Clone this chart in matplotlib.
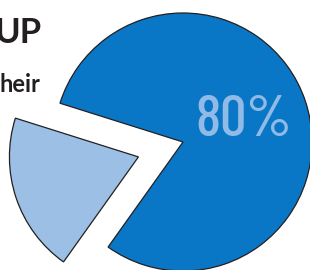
import matplotlib.pyplot as plt

# slice shares (percent)
labels = ["other", "main"]
shares = [20, 80]

BLUE = "#0a77c6"
LIGHT = "#9bbfe5"
LABEL = "#8fbbe6"
INK = "#231f20"

fig = plt.figure(figsize=(3.1, 2.7), dpi=100)
ax = fig.add_axes([0, 0, 1, 1])

# pie drawn in pixel-like data units; explode is in data units too
ax.pie(
    shares,
    explode=[47, 0],
    colors=[LIGHT, BLUE],
    startangle=162.5,
    counterclock=True,
    center=(183, 128),
    radius=129,
    wedgeprops={"edgecolor": INK, "linewidth": 0.9},
)

ax.set_xlim(0, 310)
ax.set_ylim(0, 270)
ax.set_aspect("equal")
ax.axis("off")

# big label inside the main slice
ax.text(244, 149, f"{shares[1]}%", color=LABEL, fontsize=42,
        family=["Barlow Condensed", "DejaVu Sans"],
        fontstretch="condensed", fontweight="medium",
        ha="center", va="center")

# cropped title / caption fragments
ax.text(42, 227, "UP", color=INK, fontsize=25, fontweight="bold",
        family="Lato", ha="right", va="baseline")
ax.text(40, 178, "heir", color=INK, fontsize=17, fontweight="bold",
        family="Lato", ha="right", va="baseline")
ax.text(27, 4, "ncy", color=INK, fontsize=13,
        family="Lato", ha="right", va="top")

fig.savefig("out.png", dpi=100)
